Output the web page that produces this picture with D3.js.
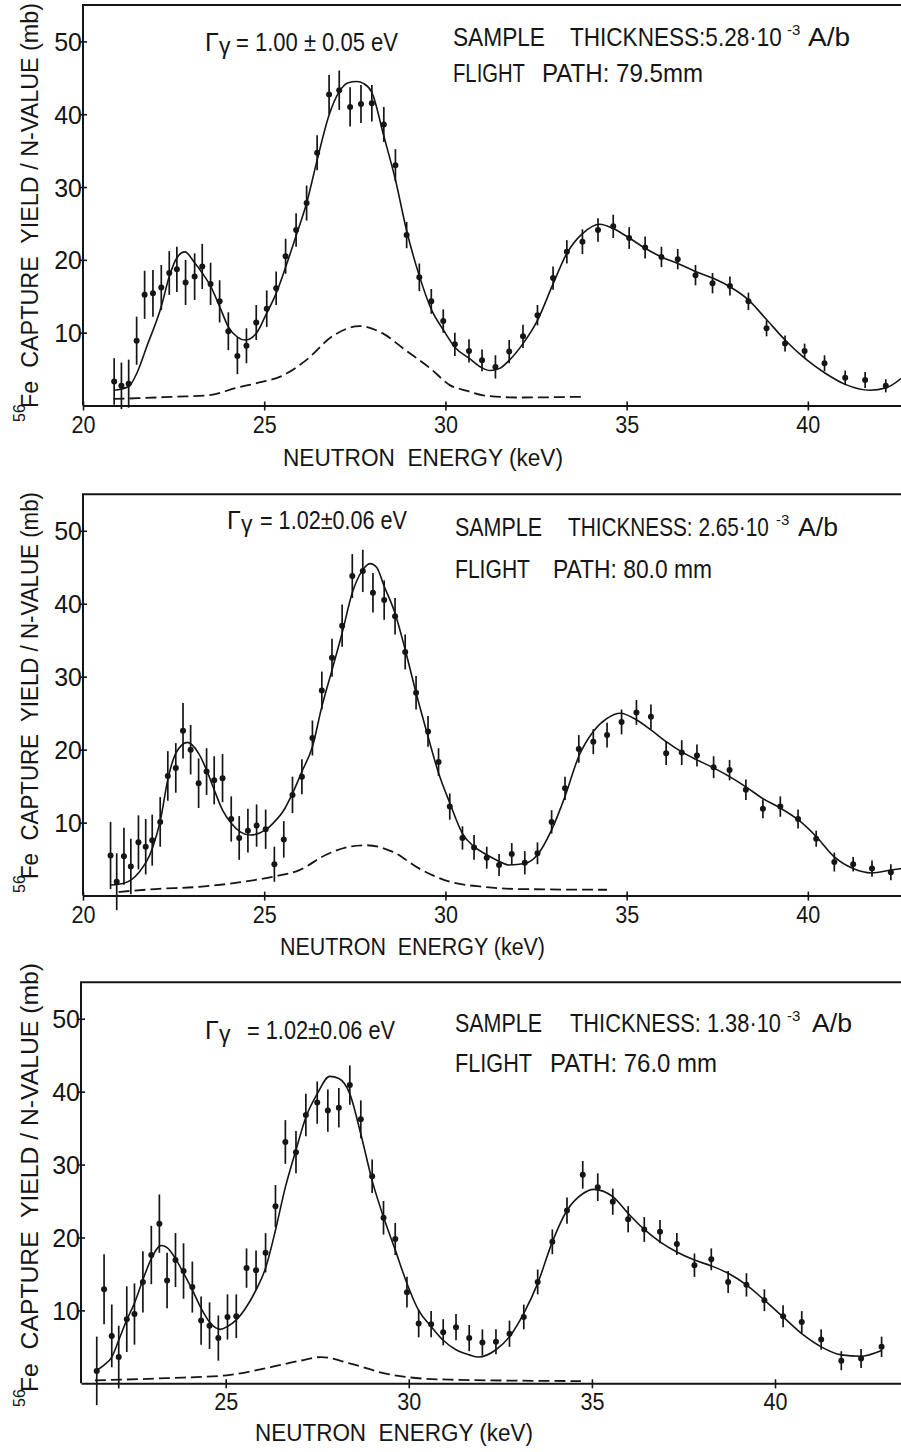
<!DOCTYPE html>
<html>
<head>
<meta charset="utf-8">
<script src="https://cdn.jsdelivr.net/npm/d3@7"></script>
<style>
body { margin: 0; background: #fff; }
svg { display: block; }
text { fill: #151515; white-space: pre; }
</style>
</head>
<body>
<div id="chart"></div>
<script>
// values: [energy keV, yield mb, error mb]
var points1 = [[20.86,3.3,3.2],[21.06,2.7,3.2],[21.26,3.0,3.3],[21.48,8.9,3.3],[21.70,15.2,3.3],[21.93,15.4,3.2],[22.16,16.2,3.1],[22.38,18.2,3.0],[22.59,18.7,3.1],[22.83,16.9,3.1],[23.08,17.7,3.2],[23.29,19.1,3.1],[23.52,16.7,2.9],[23.77,14.3,2.9],[24.01,10.2,2.6],[24.26,6.8,2.5],[24.51,8.2,2.4],[24.78,11.4,2.4],[25.07,13.3,2.5],[25.33,16.1,2.3],[25.59,20.5,2.4],[25.88,24.1,2.3],[26.17,27.8,2.4],[26.46,34.7,2.4],[26.79,42.7,2.7],[27.07,43.3,2.7],[27.37,41.0,2.7],[27.67,41.4,2.6],[27.97,41.5,2.5],[28.30,38.6,2.4],[28.62,33.0,2.2],[28.93,23.4,1.8],[29.28,17.6,1.9],[29.61,14.3,1.7],[29.94,11.6,1.6],[30.26,8.4,1.6],[30.65,7.5,1.6],[31.01,6.2,1.5],[31.38,5.3,1.6],[31.76,7.4,1.6],[32.14,9.5,1.6],[32.54,12.4,1.4],[32.97,17.5,1.6],[33.35,21.1,1.6],[33.78,22.5,1.7],[34.21,24.1,1.6],[34.63,24.6,1.6],[35.07,23.0,1.5],[35.51,21.7,1.5],[35.96,20.4,1.4],[36.41,20.1,1.4],[36.90,17.9,1.4],[37.37,16.8,1.4],[37.85,16.4,1.3],[38.36,14.3,1.2],[38.86,10.6,1.1],[39.37,8.5,1.1],[39.91,7.5,1.0],[40.46,5.8,1.1],[41.03,3.8,1.0],[41.58,3.5,1.1],[42.15,2.7,0.9]];
var fit1 = [[20.88,2.1],[21.26,2.6],[21.5,4.6],[21.76,8.1],[22.16,13.6],[22.38,17.7],[22.59,20.3],[22.81,21.1],[23.08,19.6],[23.29,18.2],[23.52,16.4],[23.77,13.6],[24.01,10.8],[24.26,9.4],[24.47,9.0],[24.78,9.9],[25.07,12.7],[25.33,15.4],[25.59,19.0],[25.88,23.3],[26.17,27.8],[26.46,33.7],[26.79,39.9],[27.07,43.1],[27.3,44.3],[27.55,44.5],[27.75,44.2],[27.97,43.0],[28.3,37.0],[28.62,31.0],[28.93,24.0],[29.28,17.8],[29.61,13.2],[29.94,10.4],[30.26,8.0],[30.65,6.5],[31.0,5.2],[31.23,4.8],[31.5,5.1],[31.76,6.2],[32.14,8.5],[32.54,11.7],[32.97,16.7],[33.35,20.9],[33.78,23.6],[34.26,24.9],[34.63,24.3],[35.07,23.0],[35.51,21.6],[35.96,20.4],[36.41,19.5],[36.9,18.4],[37.37,17.5],[37.85,16.3],[38.36,14.5],[38.86,11.8],[39.37,9.0],[39.91,6.5],[40.46,4.5],[41.03,2.9],[41.71,2.1],[42.15,2.4],[42.57,3.7]];
var bkg1 = [[20.84,0.9],[21.5,1.0],[22.5,1.2],[23.46,1.4],[24.22,2.4],[24.9,3.2],[25.46,4.0],[26.15,6.2],[26.88,9.5],[27.62,10.9],[28.27,9.9],[28.9,7.6],[29.63,4.9],[30.12,2.8],[30.6,2.0],[31.04,1.4],[32.0,1.1],[33.76,1.2]];

var points2 = [[20.76,5.5,4.6],[20.93,1.9,3.9],[21.13,5.4,3.9],[21.32,4.0,3.8],[21.53,7.3,3.7],[21.73,6.7,3.8],[21.91,7.6,3.5],[22.13,10.1,3.4],[22.34,16.4,3.4],[22.56,17.5,3.4],[22.76,22.6,3.8],[22.97,20.0,3.4],[23.19,15.4,3.4],[23.41,17.0,3.2],[23.62,15.8,3.3],[23.85,16.1,3.3],[24.09,10.5,3.1],[24.31,7.9,3.0],[24.55,8.9,3.0],[24.79,9.6,2.9],[25.04,9.1,2.7],[25.28,4.3,2.4],[25.54,7.7,2.5],[25.78,13.8,2.5],[26.04,16.3,2.4],[26.33,21.6,2.4],[26.59,28.1,2.6],[26.87,32.6,2.6],[27.15,37.0,2.9],[27.43,43.8,3.0],[27.72,44.5,2.9],[28.00,41.5,2.7],[28.31,40.5,2.7],[28.61,38.3,2.5],[28.89,33.4,2.4],[29.19,27.8,2.3],[29.52,22.5,2.1],[29.81,18.3,1.9],[30.12,12.2,1.8],[30.47,7.9,1.6],[30.79,6.6,1.7],[31.14,5.2,1.5],[31.48,4.2,1.5],[31.83,5.7,1.5],[32.19,4.5,1.6],[32.54,5.8,1.5],[32.93,10.1,1.6],[33.30,14.7,1.6],[33.68,20.1,1.9],[34.08,21.1,1.7],[34.46,22.0,1.7],[34.86,23.8,1.7],[35.27,25.1,1.7],[35.67,24.5,1.7],[36.09,19.5,1.6],[36.52,19.6,1.7],[36.94,19.2,1.5],[37.40,17.6,1.5],[37.84,17.2,1.4],[38.29,14.5,1.4],[38.76,11.9,1.3],[39.24,12.2,1.4],[39.73,10.5,1.3],[40.23,7.8,1.1],[40.73,4.6,1.3],[41.25,4.3,1.0],[41.77,3.7,1.1],[42.29,3.2,1.1]];
var fit2 = [[20.76,1.45],[21.13,1.7],[21.53,3.1],[21.93,6.7],[22.13,10.2],[22.34,15.9],[22.56,19.5],[22.88,21.0],[23.19,19.5],[23.41,17.2],[23.62,14.5],[23.85,11.7],[24.09,9.9],[24.35,8.7],[24.61,8.3],[25.04,9.0],[25.28,10.1],[25.54,11.7],[25.78,14.0],[26.04,17.0],[26.33,20.4],[26.59,25.9],[26.87,30.9],[27.15,36.0],[27.43,41.5],[27.7,44.5],[27.92,45.5],[28.1,45.0],[28.31,42.4],[28.61,38.7],[28.89,33.7],[29.19,27.8],[29.52,21.8],[29.81,16.8],[30.12,12.7],[30.47,8.5],[30.79,6.7],[31.14,5.6],[31.48,4.7],[31.76,4.2],[32.19,4.4],[32.54,5.6],[32.93,9.0],[33.3,13.6],[33.68,19.1],[34.08,22.5],[34.46,24.3],[34.82,25.0],[35.27,24.1],[35.67,22.7],[36.09,21.1],[36.52,19.7],[36.94,18.6],[37.4,17.5],[37.84,16.3],[38.29,14.9],[38.76,13.3],[39.24,12.0],[39.73,10.4],[40.23,8.1],[40.73,5.3],[41.25,3.7],[41.76,3.1],[42.29,3.5],[42.57,3.7]];
var bkg2 = [[20.98,0.5],[22.0,0.9],[23.2,1.2],[24.3,1.8],[25.25,2.6],[25.97,3.5],[26.71,5.6],[27.35,6.7],[27.81,6.9],[28.55,6.0],[29.28,3.7],[30.12,1.9],[31.06,1.2],[31.98,0.9],[34.46,0.8]];

var points3 = [[21.48,1.7,4.7],[21.68,12.9,4.8],[21.89,6.5,4.3],[22.08,3.6,4.3],[22.30,8.8,4.5],[22.51,9.5,4.2],[22.74,13.9,4.2],[22.97,17.6,4.0],[23.19,21.9,4.0],[23.40,14.1,3.8],[23.63,16.9,3.7],[23.85,15.4,3.8],[24.09,13.2,3.5],[24.33,8.6,3.3],[24.56,7.9,3.2],[24.80,6.2,3.1],[25.05,9.1,3.1],[25.29,9.2,3.0],[25.57,15.8,2.7],[25.83,15.5,2.7],[26.09,17.9,2.7],[26.36,24.3,2.9],[26.63,33.1,3.0],[26.92,31.7,2.9],[27.19,36.8,2.9],[27.50,38.5,2.9],[27.79,37.4,2.9],[28.09,37.8,2.7],[28.39,40.9,2.7],[28.69,36.2,2.6],[29.00,28.4,2.3],[29.31,22.7,2.3],[29.63,19.8,2.2],[29.95,12.5,2.1],[30.27,8.2,1.9],[30.61,8.1,1.8],[30.94,7.0,1.8],[31.29,7.7,1.8],[31.65,6.2,1.8],[32.01,5.6,1.8],[32.38,5.7,1.7],[32.75,6.8,1.8],[33.14,9.1,1.7],[33.52,13.9,1.7],[33.92,19.4,1.7],[34.32,23.7,1.8],[34.75,28.6,1.9],[35.16,26.9,1.9],[35.57,24.9,1.8],[35.99,22.5,1.8],[36.43,21.1,1.7],[36.86,20.8,1.6],[37.32,19.1,1.5],[37.80,16.2,1.6],[38.26,17.0,1.5],[38.72,13.9,1.5],[39.22,13.5,1.6],[39.71,11.4,1.5],[40.22,9.2,1.5],[40.73,8.4,1.5],[41.26,6.0,1.4],[41.81,3.1,1.3],[42.35,3.4,1.3],[42.91,5.0,1.4]];
var fit3 = [[21.48,1.8],[21.68,2.5],[21.89,3.6],[22.08,5.9],[22.3,8.7],[22.51,11.0],[22.74,14.2],[22.97,17.1],[23.24,18.9],[23.4,18.6],[23.63,17.1],[23.85,15.1],[24.09,12.8],[24.33,10.3],[24.56,8.4],[24.85,7.4],[25.05,7.8],[25.29,8.7],[25.57,10.5],[25.83,12.8],[26.09,15.8],[26.36,21.0],[26.63,26.9],[26.92,32.0],[27.19,36.5],[27.5,39.7],[27.84,42.1],[28.09,41.8],[28.39,39.7],[28.69,34.2],[29.0,27.8],[29.31,22.8],[29.63,18.3],[29.95,13.7],[30.27,10.0],[30.61,7.8],[30.94,5.9],[31.29,4.6],[31.65,3.9],[31.9,3.6],[32.38,4.6],[32.75,6.4],[33.14,9.6],[33.52,13.7],[33.92,19.4],[34.32,23.7],[34.75,26.0],[35.04,26.6],[35.57,25.6],[35.99,23.3],[36.43,21.1],[36.86,19.4],[37.32,18.0],[37.8,16.9],[38.26,16.1],[38.72,15.1],[39.22,13.5],[39.71,11.4],[40.22,9.1],[40.73,6.8],[41.26,5.0],[41.81,3.9],[42.33,3.7],[42.91,4.5]];
var bkg3 = [[21.43,0.4],[23.37,0.7],[25.03,1.1],[26.13,2.1],[27.04,3.1],[27.59,3.6],[28.41,2.7],[29.31,1.4],[30.04,0.8],[31.12,0.5],[34.7,0.3]];

var xTicks = [20, 25, 30, 35, 40];
var yTicks = [10, 20, 30, 40, 50];
var gammaText = ["= 1.00 ± 0.05 eV", "= 1.02±0.06 eV", "= 1.02±0.06 eV"];
var thickness = ["THICKNESS:5.28·10", "THICKNESS: 2.65·10", "THICKNESS: 1.38·10"];
var flightPath = ["PATH: 79.5mm", "PATH: 80.0 mm", "PATH: 76.0 mm"];

var W = 901, H = 1452;

// page layout of the three stacked panels
var panels = [
  { pts: points1, fit: fit1, bkg: bkg1, top: 5, bottom: 405.5, left: 83, dom: [20, 42.57],
    gam: [205, 51, 236, 162], samp: [46, 453, 92, 570, 212, 786, 808, 42], fl: [82, 453, 72, 542, 161],
    xl: [283, 466, 280], yl: [422, 408, 405] },
  { pts: points2, fit: fit2, bkg: bkg2, top: 494.3, bottom: 895.6, left: 83, dom: [20, 42.57],
    gam: [227, 529, 260, 147], samp: [536, 455, 87, 568, 201, 775, 798, 40], fl: [578, 455, 75, 553, 159],
    xl: [280, 955, 265], yl: [893, 879, 387] },
  { pts: points3, fit: fit3, bkg: bkg3, top: 982.3, bottom: 1383.3, left: 81, dom: [21.05, 43.44],
    gam: [205, 1039, 247, 148], samp: [1032, 455, 87, 570, 211, 786, 812, 40], fl: [1072, 455, 77, 550, 167],
    xl: [255, 1441, 278], yl: [1407, 1392, 429] }
];

var svg = d3.select("#chart").append("svg")
  .attr("width", W)
  .attr("height", H)
  .style("font-family", "'Liberation Sans',Arial,sans-serif");

function label(g, x, y, s, size, len) {
  var t = g.append("text").attr("x", x).attr("y", y).attr("font-size", size).text(s);
  if (len) t.attr("textLength", len).attr("lengthAdjust", "spacingAndGlyphs");
  return t;
}

// squeeze a text horizontally so it spans w pixels from (x, y)
function squeezed(g, x, y, s, size, w) {
  var t = g.append("text").attr("font-size", size).text(s);
  var n = t.node().getComputedTextLength();
  t.attr("transform", "translate(" + x + "," + y + ") scale(" + (w / n).toFixed(4) + ",1)");
  return t;
}

panels.forEach(function (p, i) {
  var g = svg.append("g");
  var x = d3.scaleLinear().domain(p.dom).range([p.left, W]);
  var y = d3.scaleLinear().domain([0, 55]).range([p.bottom, p.top]);
  var ink = "#151515";

  // top and left frame lines
  g.append("path")
    .attr("d", "M" + W + "," + y(55) + "H" + x(p.dom[0]) + "V" + y(0))
    .attr("fill", "none").attr("stroke", ink).attr("stroke-width", 2);

  // x axis, ticks cross the line
  var gx = g.append("g")
    .attr("transform", "translate(0," + y(0) + ")")
    .call(d3.axisBottom(x).tickValues(xTicks.filter(function (t) { return t >= p.dom[0]; }))
      .tickSize(5).tickSizeOuter(0));
  gx.select(".domain").attr("stroke", ink).attr("stroke-width", 2);
  gx.selectAll(".tick line").attr("y1", -4).attr("stroke", ink).attr("stroke-width", 1.6);
  gx.selectAll(".tick text").attr("y", 27).attr("dy", 0)
    .attr("font-size", 24).attr("font-family", "'Liberation Sans',sans-serif").attr("fill", ink)
    .attr("textLength", 24).attr("lengthAdjust", "spacingAndGlyphs");

  // y axis
  var gy = g.append("g")
    .attr("transform", "translate(" + x(p.dom[0]) + ",0)")
    .call(d3.axisLeft(y).tickValues(yTicks).tickSize(3).tickSizeOuter(0));
  gy.select(".domain").remove();
  gy.selectAll(".tick line").attr("x1", 4).attr("stroke", ink).attr("stroke-width", 1.6);
  gy.selectAll(".tick text").attr("x", -1).attr("dy", "0.36em")
    .attr("font-size", 25).attr("font-family", "'Liberation Sans',sans-serif").attr("fill", ink);

  // background (dashed) and fit (solid) curves
  var line = d3.line().x(function (d) { return x(d[0]); }).y(function (d) { return y(d[1]); })
    .curve(d3.curveMonotoneX);
  g.append("path").datum(p.bkg).attr("d", line)
    .attr("fill", "none").attr("stroke", ink).attr("stroke-width", 1.8).attr("stroke-dasharray", "11,5");
  g.append("path").datum(p.fit).attr("d", line)
    .attr("fill", "none").attr("stroke", ink).attr("stroke-width", 1.6);

  // measured points with error bars
  g.selectAll(".err").data(p.pts).enter().append("line")
    .attr("x1", function (d) { return x(d[0]); }).attr("x2", function (d) { return x(d[0]); })
    .attr("y1", function (d) { return y(d[1] + d[2]); }).attr("y2", function (d) { return y(d[1] - d[2]); })
    .attr("stroke", ink).attr("stroke-width", 1.7);
  g.selectAll(".dot").data(p.pts).enter().append("circle")
    .attr("cx", function (d) { return x(d[0]); }).attr("cy", function (d) { return y(d[1]); })
    .attr("r", 3).attr("fill", ink);

  // annotations
  label(g, p.gam[0], p.gam[1], "Γ", 25);
  label(g, p.gam[0] + 14, p.gam[1] + 3, "γ", 23);
  label(g, p.gam[2], p.gam[1], gammaText[i], 25, p.gam[3]);

  // sample line, superscript kept apart from the squeezed thickness text
  var s = p.samp;
  label(g, s[1], s[0], "SAMPLE", 25, s[2]);
  squeezed(g, s[3], s[0], thickness[i], 25, s[4]);
  label(g, s[5] + 1, s[0] - 11, "-3", 15);
  label(g, s[6], s[0], "A/b", 25, s[7]);

  label(g, p.fl[1], p.fl[0], "FLIGHT", 25, p.fl[2]);
  label(g, p.fl[3], p.fl[0], flightPath[i], 25, p.fl[4]);

  label(g, p.xl[0], p.xl[1], "NEUTRON  ENERGY (keV)", 23, p.xl[2]);

  g.append("text").attr("transform", "translate(25," + p.yl[0] + ") rotate(-90)")
    .attr("font-size", 16).text("56");
  g.append("text").attr("transform", "translate(38," + p.yl[1] + ") rotate(-90)")
    .attr("font-size", 23).attr("textLength", p.yl[2]).attr("lengthAdjust", "spacingAndGlyphs")
    .text("Fe  CAPTURE  YIELD / N-VALUE (mb)");
});
</script>
</body>
</html>
